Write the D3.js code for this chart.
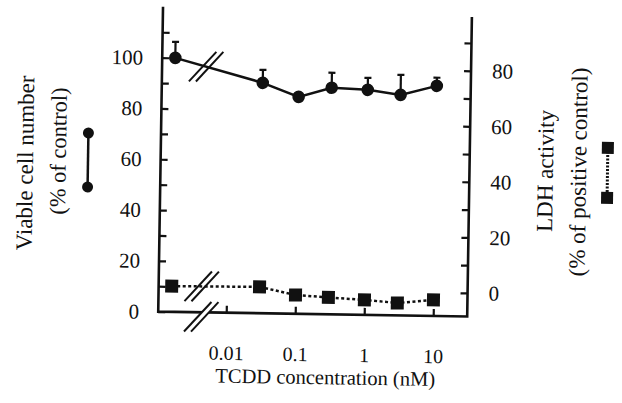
<!DOCTYPE html>
<meta charset="utf-8">
<html>
<head>
	<script src="https://cdn.jsdelivr.net/npm/d3@7"></script>
	<style>
		body { margin: 0; background: #fff; }
	</style>
</head>
<body>
<svg id="chart" width="622" height="403"></svg>
<script>
	// TCDD dose groups, the first one is the untreated control
	var doses = ["control", 0.03, 0.1, 0.3, 1, 3, 10];
	var viable = [100, 90.7, 85.4, 89.2, 88.6, 86.8, 90.6];     // % of control
	var viableErr = [6.3, 5.1, 1.5, 5.9, 4.7, 7.9, 3.2];
	var ldh = [0.8, 1.0, -1.7, -2.4, -3.1, -4.0, -2.7];          // % of positive control
	var xTicks = [0.01, 0.1, 1, 10];
	var leftTicks = d3.range(0, 120, 10);
	var rightTicks = d3.range(0, 100, 10);

	var controlAt = 0.0016; // control is drawn left of the axis break
	var breakAt = 0.0045;

	var left = 160, right = 469, bottom = 314;
	var serif = '"Liberation Serif", "Times New Roman", Times, serif';

	var x = d3.scaleLog().domain([0.01, 10]).range([228, 435]);
	var yL = d3.scaleLinear().domain([0, 100]).range([314, 60]);
	var yR = d3.scaleLinear().domain([0, 90]).range([290.5, 40.5]);

	function xpos(d) { return x(d === "control" ? controlAt : d); }

	var svg = d3.select("#chart");
	// the scanned figure sits slightly rotated on the page
	var g = svg.append("g").attr("transform", "rotate(0.9,311,200)");

	function styleAxis(ax, size) {
		ax.select(".domain").remove();
		ax.attr("font-family", serif).attr("font-size", size);
		ax.selectAll(".tick line").attr("stroke", "#111").attr("stroke-width", 2.2);
		ax.selectAll(".tick text")
			.style("font-family", serif)
			.style("font-size", size + "px")
			.attr("fill", "#111");
	}

	var axL = g.append("g")
		.attr("transform", "translate(" + left + ",0)")
		.call(d3.axisLeft(yL).tickValues(leftTicks).tickSize(-7).tickPadding(19)
			.tickFormat(function(d) { return d % 20 === 0 ? d : ""; }));
	styleAxis(axL, 21);

	var axR = g.append("g")
		.attr("transform", "translate(" + right + ",0)")
		.call(d3.axisRight(yR).tickValues(rightTicks).tickSize(-7).tickPadding(21)
			.tickFormat(function(d) { return d % 20 === 0 ? d : ""; }));
	styleAxis(axR, 21);

	var axX = g.append("g")
		.attr("transform", "translate(0," + bottom + ")")
		.call(d3.axisBottom(x).tickValues(xTicks).tickSize(-7).tickPadding(33)
			.tickFormat(function(d) { return d; }));
	styleAxis(axX, 20);

	// axis frame (open at the top)
	g.append("path")
		.attr("d", "M" + left + ",9V" + bottom + "H" + right + "V14.5")
		.attr("fill", "none").attr("stroke", "#111").attr("stroke-width", 2.6);

	function drawBreak(cx, cy, blank) {
		var dx = 13.5, dy = 15, gap = 7;
		if (blank) {
			g.append("path")
				.attr("d", "M" + (cx - dx) + "," + (cy + dy) + "L" + (cx + dx) + "," + (cy - dy) +
					"L" + (cx + dx + gap) + "," + (cy - dy) + "L" + (cx - dx + gap) + "," + (cy + dy) + "Z")
				.attr("fill", "#fff");
		}
		[0, gap].forEach(function(o) {
			g.append("line")
				.attr("x1", cx - dx + o).attr("y1", cy + dy)
				.attr("x2", cx + dx + o).attr("y2", cy - dy)
				.attr("stroke", "#111").attr("stroke-width", 2);
		});
	}

	// viable cell number, solid line with circles
	var lineL = d3.line()
		.x(function(d, i) { return xpos(doses[i]); })
		.y(function(d) { return yL(d); });
	g.append("path").datum(viable)
		.attr("d", lineL)
		.attr("fill", "none").attr("stroke", "#111").attr("stroke-width", 2.5);

	var errs = g.append("g").selectAll("g").data(viable).enter().append("g");
	errs.append("line")
		.attr("x1", function(d, i) { return xpos(doses[i]); })
		.attr("x2", function(d, i) { return xpos(doses[i]); })
		.attr("y1", function(d) { return yL(d); })
		.attr("y2", function(d, i) { return yL(d + viableErr[i]); })
		.attr("stroke", "#111").attr("stroke-width", 2.2);
	errs.append("line")
		.attr("x1", function(d, i) { return xpos(doses[i]) - 3.5; })
		.attr("x2", function(d, i) { return xpos(doses[i]) + 3.5; })
		.attr("y1", function(d, i) { return yL(d + viableErr[i]); })
		.attr("y2", function(d, i) { return yL(d + viableErr[i]); })
		.attr("stroke", "#111").attr("stroke-width", 2.2);

	g.append("g").selectAll("circle").data(viable).enter().append("circle")
		.attr("cx", function(d, i) { return xpos(doses[i]); })
		.attr("cy", function(d) { return yL(d); })
		.attr("r", 6.3)
		.attr("fill", "#111");

	// LDH activity, dotted line with squares
	var lineR = d3.line()
		.x(function(d, i) { return xpos(doses[i]); })
		.y(function(d) { return yR(d); });
	g.append("path").datum(ldh)
		.attr("d", lineR)
		.attr("fill", "none").attr("stroke", "#111").attr("stroke-width", 2.5)
		.attr("stroke-dasharray", "3,2.5");

	g.append("g").selectAll("rect").data(ldh).enter().append("rect")
		.attr("x", function(d, i) { return xpos(doses[i]) - 6.5; })
		.attr("y", function(d) { return yR(d) - 6.5; })
		.attr("width", 13).attr("height", 13)
		.attr("fill", "#111");

	// axis breaks
	var bx = x(breakAt);
	var lerp = function(arr, scale) {
		var x0 = xpos(doses[0]), x1 = xpos(doses[1]);
		var t = (bx - x0) / (x1 - x0);
		return scale(arr[0]) + t * (scale(arr[1]) - scale(arr[0]));
	};
	drawBreak(bx - 3.5, lerp(viable, yL), false);
	drawBreak(bx - 4.5, lerp(ldh, yR), false);
	drawBreak(bx - 4.5, bottom + 4.5, true);

	// axis titles
	function vtext(tx, ty, s, size) {
		g.append("text")
			.attr("transform", "translate(" + tx + "," + ty + ") rotate(-90)")
			.attr("text-anchor", "middle")
			.attr("fill", "#111")
			.style("font-family", serif)
			.style("font-size", size + "px")
			.text(s);
	}
	vtext(32.4, 167.4, "Viable cell number", 23);
	vtext(65.2, 155, "(% of control)", 22.5);
	vtext(552.5, 167.2, "LDH activity", 23);
	vtext(585.6, 167.7, "(% of positive control)", 23);

	g.append("text")
		.attr("x", 328).attr("y", 384)
		.attr("text-anchor", "middle")
		.attr("fill", "#111")
		.style("font-family", serif)
		.style("font-size", "20.5px")
		.text("TCDD concentration (nM)");

	// legend keys next to the titles
	var keyL = g.append("g");
	keyL.append("line").attr("x1", 87.4).attr("x2", 87.4).attr("y1", 136.5).attr("y2", 190.5)
		.attr("stroke", "#111").attr("stroke-width", 2.5);
	keyL.selectAll("circle").data([136.5, 190.5]).enter().append("circle")
		.attr("cx", 87.4).attr("cy", function(d) { return d; }).attr("r", 5.5).attr("fill", "#111");

	var keyR = g.append("g");
	keyR.append("line").attr("x1", 607).attr("x2", 607).attr("y1", 143.3).attr("y2", 193.3)
		.attr("stroke", "#111").attr("stroke-width", 3).attr("stroke-dasharray", "2,1.5");
	keyR.selectAll("rect").data([143.3, 193.3]).enter().append("rect")
		.attr("x", 601).attr("y", function(d) { return d - 6; })
		.attr("width", 12).attr("height", 12).attr("fill", "#111");
</script>
</body>
</html>
